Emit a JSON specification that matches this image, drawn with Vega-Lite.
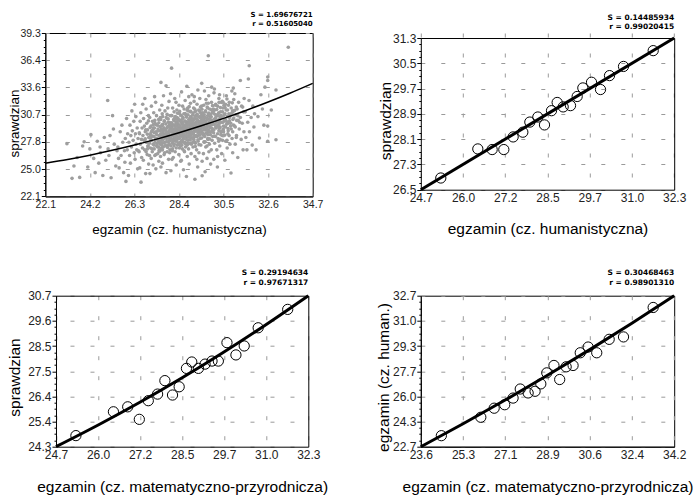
{
"$schema": "https://vega.github.io/schema/vega-lite/v6.json",
"padding": {"left": 6.3, "top": 10, "right": 0, "bottom": 0},
"background": "white",
"config": {
 "font": "Liberation Sans",
 "view": {"stroke": "#000", "strokeWidth": 1},
 "axis": {"domainColor": "#000", "domainWidth": 1, "labelColor": "#222", "titleColor": "#000", "titleFontWeight": "normal", "labelFont": "Liberation Sans", "titleFont": "Liberation Sans", "gridColor": "#9a9a9a", "gridWidth": 1, "tickColor": "#000", "labelFlush": false, "labelOverlap": false, "labelBound": false, "grid": true, "gridDash": [4, 16]},
 "title": {"font": "DejaVu Sans", "fontWeight": "bold", "anchor": "end", "color": "#000", "frame": "group"}
},
"datasets": {
"p1pts": [
{"x":23.12,"y":27.65},{"x":23.36,"y":24.0},{"x":23.45,"y":25.3},
{"x":23.72,"y":24.1},{"x":23.86,"y":27.4},{"x":23.93,"y":27.85},{"x":23.6,"y":26.2},
{"x":24.25,"y":28.6},{"x":24.1,"y":25.2},{"x":24.38,"y":26.1},{"x":24.45,"y":24.6},{"x":24.2,"y":27.1},
{"x":24.55,"y":27.9},{"x":24.62,"y":25.6},{"x":24.7,"y":26.7},{"x":24.81,"y":24.3},{"x":24.88,"y":28.3},{"x":24.95,"y":25.9},{"x":24.68,"y":27.3},
{"x":25.04,"y":32.2},{"x":25.27,"y":30.6},{"x":25.2,"y":24.07},{"x":25.1,"y":26.4},{"x":25.35,"y":27.6},{"x":25.42,"y":25.3},{"x":25.15,"y":28.5},{"x":25.48,"y":26.9},{"x":25.31,"y":29.2},{"x":25.06,"y":27.1},
{"x":25.52,"y":27.3},{"x":25.58,"y":25.1},{"x":25.63,"y":28.9},{"x":25.67,"y":26.4},{"x":25.71,"y":29.6},{"x":25.75,"y":27.8},{"x":25.79,"y":24.6},{"x":25.83,"y":26.9},{"x":25.87,"y":28.2},{"x":25.9,"y":23.68},{"x":25.93,"y":30.3},{"x":25.96,"y":27.0},{"x":25.55,"y":26.1},{"x":25.85,"y":25.7},{"x":25.98,"y":28.7},
{"x":26.02,"y":24.3},{"x":26.45,"y":25.0},{"x":26.11,"y":25.6},{"x":26.33,"y":26.0},{"x":26.07,"y":26.4},{"x":26.29,"y":26.7},{"x":26.41,"y":27.0},{"x":26.16,"y":27.3},{"x":26.38,"y":27.6},{"x":26.04,"y":27.8},{"x":26.24,"y":28.0},{"x":26.47,"y":28.2},{"x":26.13,"y":28.5},{"x":26.35,"y":28.7},{"x":26.2,"y":29.0},{"x":26.43,"y":29.3},{"x":26.09,"y":29.6},{"x":26.27,"y":30.0},{"x":26.37,"y":30.5},{"x":26.18,"y":31.1},{"x":26.31,"y":31.8},{"x":26.49,"y":26.9},
{"x":26.61,"y":23.6},{"x":26.83,"y":24.5},{"x":26.55,"y":25.1},{"x":26.97,"y":25.5},{"x":26.72,"y":25.9},{"x":26.64,"y":26.2},{"x":26.9,"y":26.5},{"x":26.52,"y":26.8},{"x":26.78,"y":27.0},{"x":26.68,"y":27.2},{"x":26.94,"y":27.4},{"x":26.58,"y":27.6},{"x":26.86,"y":27.8},{"x":26.75,"y":28.0},{"x":26.63,"y":28.1},{"x":26.99,"y":28.3},{"x":26.7,"y":28.5},{"x":26.54,"y":28.7},{"x":26.81,"y":28.9},{"x":26.92,"y":29.1},{"x":26.66,"y":29.3},{"x":26.77,"y":29.5},{"x":26.88,"y":29.8},{"x":26.57,"y":30.0},{"x":26.73,"y":30.3},{"x":26.96,"y":30.6},{"x":26.6,"y":30.9},{"x":26.85,"y":31.3},{"x":26.69,"y":31.8},{"x":26.79,"y":32.4},{"x":26.91,"y":27.1},{"x":26.53,"y":28.8},
{"x":27.03,"y":24.5},{"x":27.31,"y":25.0},{"x":27.18,"y":25.4},{"x":27.45,"y":25.8},{"x":27.09,"y":26.1},{"x":27.26,"y":26.4},{"x":27.4,"y":26.6},{"x":27.14,"y":26.8},{"x":27.48,"y":27.0},{"x":27.06,"y":27.2},{"x":27.35,"y":27.4},{"x":27.22,"y":27.5},{"x":27.01,"y":27.7},{"x":27.43,"y":27.8},{"x":27.11,"y":28.0},{"x":27.29,"y":28.1},{"x":27.37,"y":28.2},{"x":27.16,"y":28.4},{"x":27.47,"y":28.5},{"x":27.05,"y":28.6},{"x":27.24,"y":28.8},{"x":27.33,"y":28.9},{"x":27.12,"y":29.0},{"x":27.41,"y":29.2},{"x":27.2,"y":29.3},{"x":27.08,"y":29.5},{"x":27.38,"y":29.6},{"x":27.27,"y":29.8},{"x":27.15,"y":30.0},{"x":27.44,"y":30.2},{"x":27.02,"y":30.4},{"x":27.34,"y":30.6},{"x":27.21,"y":30.9},{"x":27.49,"y":31.2},{"x":27.1,"y":31.6},{"x":27.3,"y":32.0},{"x":27.25,"y":32.6},{"x":27.39,"y":27.3},{"x":27.07,"y":28.3},{"x":27.17,"y":29.1},{"x":27.46,"y":26.9},
{"x":27.79,"y":24.6},{"x":27.55,"y":25.2},{"x":27.62,"y":25.6},{"x":27.91,"y":26.0},{"x":27.53,"y":26.3},{"x":27.7,"y":26.5},{"x":27.84,"y":26.8},{"x":27.97,"y":27.0},{"x":27.58,"y":27.2},{"x":27.66,"y":27.3},{"x":27.88,"y":27.5},{"x":27.51,"y":27.6},{"x":27.75,"y":27.8},{"x":27.94,"y":27.9},{"x":27.6,"y":28.0},{"x":27.81,"y":28.2},{"x":27.68,"y":28.3},{"x":27.99,"y":28.4},{"x":27.56,"y":28.5},{"x":27.73,"y":28.6},{"x":27.86,"y":28.7},{"x":27.64,"y":28.8},{"x":27.92,"y":28.9},{"x":27.52,"y":29.0},{"x":27.77,"y":29.1},{"x":27.69,"y":29.2},{"x":27.83,"y":29.3},{"x":27.57,"y":29.5},{"x":27.95,"y":29.6},{"x":27.63,"y":29.7},{"x":27.89,"y":29.9},{"x":27.71,"y":30.0},{"x":27.54,"y":30.2},{"x":27.8,"y":30.4},{"x":27.98,"y":30.6},{"x":27.61,"y":30.8},{"x":27.74,"y":31.1},{"x":27.87,"y":31.4},{"x":27.59,"y":31.7},{"x":27.93,"y":32.1},{"x":27.67,"y":32.7},{"x":27.79,"y":33.75},{"x":27.55,"y":34.1},{"x":27.82,"y":27.4},{"x":27.65,"y":28.1},{"x":27.96,"y":29.4},{"x":27.72,"y":26.7},{"x":27.85,"y":30.3},{"x":27.58,"y":27.7},
{"x":28.02,"y":24.8},{"x":28.27,"y":25.4},{"x":28.48,"y":25.8},{"x":28.13,"y":26.2},{"x":28.39,"y":26.5},{"x":28.22,"y":26.8},{"x":28.05,"y":27.0},{"x":28.42,"y":27.2},{"x":28.16,"y":27.4},{"x":28.33,"y":27.5},{"x":28.09,"y":27.7},{"x":28.46,"y":27.8},{"x":28.25,"y":27.9},{"x":28.11,"y":28.1},{"x":28.38,"y":28.2},{"x":28.01,"y":28.3},{"x":28.29,"y":28.4},{"x":28.47,"y":28.5},{"x":28.14,"y":28.6},{"x":28.35,"y":28.7},{"x":28.21,"y":28.8},{"x":28.04,"y":28.9},{"x":28.41,"y":29.0},{"x":28.18,"y":29.1},{"x":28.32,"y":29.2},{"x":28.08,"y":29.3},{"x":28.45,"y":29.4},{"x":28.24,"y":29.5},{"x":28.12,"y":29.6},{"x":28.37,"y":29.7},{"x":28.03,"y":29.8},{"x":28.28,"y":29.9},{"x":28.49,"y":30.0},{"x":28.15,"y":30.2},{"x":28.34,"y":30.3},{"x":28.23,"y":30.5},{"x":28.06,"y":30.6},{"x":28.43,"y":30.8},{"x":28.17,"y":31.0},{"x":28.3,"y":31.2},{"x":28.1,"y":31.4},{"x":28.4,"y":31.7},{"x":28.26,"y":32.0},{"x":28.2,"y":32.4},{"x":28.0,"y":32.9},{"x":28.05,"y":35.6},{"x":28.09,"y":27.1},{"x":28.47,"y":27.6},{"x":28.22,"y":28.0},{"x":28.13,"y":28.6},{"x":28.44,"y":29.2},{"x":28.28,"y":29.9},{"x":28.31,"y":30.4},{"x":28.07,"y":26.0},
{"x":28.75,"y":24.2},{"x":28.61,"y":24.9},{"x":28.88,"y":25.5},{"x":28.51,"y":25.9},{"x":28.79,"y":26.3},{"x":28.97,"y":26.6},{"x":28.64,"y":26.9},{"x":28.85,"y":27.1},{"x":28.71,"y":27.3},{"x":28.54,"y":27.5},{"x":28.91,"y":27.7},{"x":28.68,"y":27.8},{"x":28.82,"y":28.0},{"x":28.58,"y":28.1},{"x":28.95,"y":28.3},{"x":28.74,"y":28.4},{"x":28.62,"y":28.5},{"x":28.87,"y":28.6},{"x":28.53,"y":28.7},{"x":28.78,"y":28.8},{"x":28.99,"y":28.9},{"x":28.65,"y":29.0},{"x":28.84,"y":29.1},{"x":28.73,"y":29.2},{"x":28.56,"y":29.3},{"x":28.93,"y":29.4},{"x":28.67,"y":29.5},{"x":28.8,"y":29.6},{"x":28.6,"y":29.7},{"x":28.9,"y":29.8},{"x":28.76,"y":29.9},{"x":28.7,"y":30.0},{"x":28.5,"y":30.1},{"x":28.86,"y":30.2},{"x":28.59,"y":30.4},{"x":28.97,"y":30.5},{"x":28.72,"y":30.7},{"x":28.63,"y":30.8},{"x":28.94,"y":31.0},{"x":28.78,"y":31.2},{"x":28.81,"y":31.4},{"x":28.57,"y":31.6},{"x":28.94,"y":31.9},{"x":28.69,"y":32.2},{"x":28.86,"y":32.6},{"x":28.52,"y":33.1},{"x":28.77,"y":33.7},{"x":28.98,"y":27.6},{"x":28.63,"y":28.2},{"x":28.89,"y":28.8},{"x":28.72,"y":29.3},{"x":28.55,"y":29.9},{"x":28.92,"y":30.3},{"x":28.66,"y":26.8},{"x":28.83,"y":31.1},{"x":28.59,"y":28.6},{"x":28.96,"y":29.6},
{"x":29.15,"y":23.9},{"x":29.49,"y":24.28},{"x":29.28,"y":25.2},{"x":29.49,"y":25.8},{"x":29.15,"y":26.3},{"x":29.34,"y":26.7},{"x":29.23,"y":27.0},{"x":29.06,"y":27.3},{"x":29.43,"y":27.5},{"x":29.17,"y":27.7},{"x":29.3,"y":27.9},{"x":29.1,"y":28.1},{"x":29.4,"y":28.2},{"x":29.26,"y":28.4},{"x":29.2,"y":28.5},{"x":29.0,"y":28.7},{"x":29.36,"y":28.8},{"x":29.09,"y":28.9},{"x":29.47,"y":29.0},{"x":29.22,"y":29.1},{"x":29.13,"y":29.2},{"x":29.44,"y":29.3},{"x":29.28,"y":29.4},{"x":29.31,"y":29.5},{"x":29.07,"y":29.6},{"x":29.44,"y":29.7},{"x":29.19,"y":29.8},{"x":29.36,"y":29.9},{"x":29.02,"y":30.0},{"x":29.27,"y":30.1},{"x":29.48,"y":30.2},{"x":29.13,"y":30.3},{"x":29.39,"y":30.4},{"x":29.22,"y":30.6},{"x":29.05,"y":30.7},{"x":29.42,"y":30.9},{"x":29.16,"y":31.0},{"x":29.33,"y":31.2},{"x":29.09,"y":31.4},{"x":29.46,"y":31.6},{"x":29.25,"y":31.8},{"x":29.11,"y":32.1},{"x":29.38,"y":32.4},{"x":29.01,"y":32.8},{"x":29.29,"y":33.3},{"x":29.47,"y":34.0},{"x":29.14,"y":27.8},{"x":29.35,"y":28.6},{"x":29.21,"y":29.3},{"x":29.04,"y":30.0},{"x":29.41,"y":30.5},{"x":29.18,"y":31.1},{"x":29.32,"y":29.0},{"x":29.08,"y":28.3},{"x":29.45,"y":29.7},{"x":29.24,"y":26.0},{"x":29.12,"y":32.6},
{"x":29.63,"y":24.7},{"x":29.89,"y":25.5},{"x":29.72,"y":26.1},{"x":29.55,"y":26.6},{"x":29.92,"y":27.0},{"x":29.66,"y":27.3},{"x":29.83,"y":27.6},{"x":29.59,"y":27.8},{"x":29.96,"y":28.0},{"x":29.75,"y":28.2},{"x":29.61,"y":28.4},{"x":29.88,"y":28.6},{"x":29.51,"y":28.7},{"x":29.79,"y":28.9},{"x":29.97,"y":29.0},{"x":29.64,"y":29.2},{"x":29.85,"y":29.3},{"x":29.71,"y":29.4},{"x":29.54,"y":29.6},{"x":29.91,"y":29.7},{"x":29.68,"y":29.8},{"x":29.82,"y":29.9},{"x":29.58,"y":30.0},{"x":29.95,"y":30.1},{"x":29.74,"y":30.3},{"x":29.62,"y":30.4},{"x":29.87,"y":30.5},{"x":29.53,"y":30.6},{"x":29.78,"y":30.8},{"x":29.99,"y":30.9},{"x":29.65,"y":31.1},{"x":29.84,"y":31.3},{"x":29.73,"y":31.5},{"x":29.56,"y":31.7},{"x":29.93,"y":32.0},{"x":29.67,"y":32.3},{"x":29.8,"y":32.7},{"x":29.6,"y":33.2},{"x":29.78,"y":36.9},{"x":29.76,"y":28.1},{"x":29.7,"y":28.8},{"x":29.5,"y":29.5},{"x":29.86,"y":30.2},{"x":29.59,"y":30.7},{"x":29.97,"y":31.2},{"x":29.72,"y":27.4},{"x":29.63,"y":29.1},{"x":29.94,"y":30.0},{"x":29.78,"y":31.9},{"x":29.81,"y":26.8},{"x":29.57,"y":28.5},{"x":29.94,"y":33.6},
{"x":30.21,"y":25.2},{"x":30.04,"y":26.0},{"x":30.41,"y":26.6},{"x":30.18,"y":27.0},{"x":30.32,"y":27.4},{"x":30.08,"y":27.7},{"x":30.45,"y":28.0},{"x":30.24,"y":28.2},{"x":30.12,"y":28.4},{"x":30.37,"y":28.6},{"x":30.03,"y":28.8},{"x":30.28,"y":29.0},{"x":30.49,"y":29.1},{"x":30.15,"y":29.3},{"x":30.34,"y":29.4},{"x":30.23,"y":29.6},{"x":30.06,"y":29.7},{"x":30.43,"y":29.9},{"x":30.17,"y":30.0},{"x":30.3,"y":30.1},{"x":30.1,"y":30.3},{"x":30.4,"y":30.4},{"x":30.26,"y":30.6},{"x":30.2,"y":30.7},{"x":30.0,"y":30.9},{"x":30.36,"y":31.0},{"x":30.09,"y":31.2},{"x":30.47,"y":31.4},{"x":30.22,"y":31.6},{"x":30.13,"y":31.8},{"x":30.44,"y":32.1},{"x":30.28,"y":32.4},{"x":30.31,"y":32.8},{"x":30.07,"y":33.4},{"x":30.44,"y":28.5},{"x":30.19,"y":29.5},{"x":30.36,"y":30.5},{"x":30.02,"y":31.3},{"x":30.27,"y":27.9},{"x":30.48,"y":29.2},{"x":30.13,"y":30.2},{"x":30.39,"y":32.0},{"x":30.22,"y":26.3},{"x":30.05,"y":33.0},{"x":30.42,"y":28.9},
{"x":30.85,"y":24.56},{"x":30.56,"y":25.9},{"x":30.93,"y":26.7},{"x":30.67,"y":27.2},{"x":30.8,"y":27.6},{"x":30.6,"y":27.9},{"x":30.9,"y":28.2},{"x":30.76,"y":28.5},{"x":30.7,"y":28.7},{"x":30.5,"y":28.9},{"x":30.86,"y":29.2},{"x":30.59,"y":29.4},{"x":30.97,"y":29.6},{"x":30.72,"y":29.8},{"x":30.63,"y":30.0},{"x":30.94,"y":30.2},{"x":30.78,"y":30.4},{"x":30.81,"y":30.6},{"x":30.57,"y":30.8},{"x":30.94,"y":31.0},{"x":30.69,"y":31.2},{"x":30.86,"y":31.4},{"x":30.52,"y":31.7},{"x":30.77,"y":32.0},{"x":30.98,"y":32.3},{"x":30.63,"y":32.7},{"x":30.89,"y":33.2},{"x":30.72,"y":29.0},{"x":30.55,"y":30.1},{"x":30.92,"y":31.1},{"x":30.66,"y":28.0},{"x":30.83,"y":29.5},{"x":30.59,"y":31.8},{"x":30.96,"y":33.5},
{"x":31.17,"y":26.2},{"x":31.42,"y":27.0},{"x":31.05,"y":27.6},{"x":31.33,"y":28.1},{"x":31.11,"y":28.5},{"x":31.46,"y":28.9},{"x":31.24,"y":29.2},{"x":31.02,"y":29.5},{"x":31.38,"y":29.8},{"x":31.19,"y":30.1},{"x":31.29,"y":30.4},{"x":31.08,"y":30.7},{"x":31.44,"y":31.0},{"x":31.14,"y":31.3},{"x":31.35,"y":31.6},{"x":31.21,"y":32.0},{"x":31.47,"y":32.4},{"x":31.03,"y":32.9},{"x":31.29,"y":34.3},{"x":31.26,"y":29.9},{"x":31.4,"y":31.5},{"x":31.1,"y":28.3},
{"x":31.6,"y":27.0},{"x":31.85,"y":27.5},{"x":31.55,"y":28.3},{"x":31.72,"y":28.9},{"x":31.93,"y":29.4},{"x":31.64,"y":29.9},{"x":31.8,"y":30.4},{"x":31.52,"y":31.0},{"x":31.88,"y":31.6},{"x":31.7,"y":32.2},{"x":31.71,"y":35.86},{"x":31.67,"y":34.46},{"x":31.96,"y":30.8},
{"x":32.03,"y":27.0},{"x":32.19,"y":28.24},{"x":32.4,"y":29.6},{"x":32.12,"y":30.5},{"x":32.33,"y":31.3},{"x":32.26,"y":32.8},{"x":32.45,"y":33.6},
{"x":32.58,"y":29.5},{"x":32.58,"y":27.9},{"x":32.58,"y":34.67},{"x":32.58,"y":34.3},{"x":32.97,"y":33.3},{"x":32.97,"y":28.07},{"x":33.55,"y":37.8},{"x":32.75,"y":31.2},
{"x":27.01,"y":26.4},{"x":26.85,"y":26.8},{"x":27.13,"y":27.1},{"x":26.94,"y":27.4},{"x":27.18,"y":27.6},{"x":26.89,"y":27.8},{"x":27.07,"y":28.0},{"x":26.81,"y":28.15},{"x":26.98,"y":28.3},{"x":27.15,"y":28.45},{"x":26.91,"y":28.65},{"x":27.09,"y":28.85},{"x":26.83,"y":29.1},{"x":27.04,"y":29.35},{"x":27.19,"y":29.65},{"x":26.96,"y":30.05},
{"x":27.31,"y":26.5},{"x":27.49,"y":26.85},{"x":27.23,"y":27.1},{"x":27.44,"y":27.3},{"x":27.59,"y":27.5},{"x":27.36,"y":27.65},{"x":27.27,"y":27.8},{"x":27.51,"y":27.95},{"x":27.4,"y":28.1},{"x":27.32,"y":28.2},{"x":27.56,"y":28.3},{"x":27.22,"y":28.4},{"x":27.46,"y":28.5},{"x":27.35,"y":28.6},{"x":27.54,"y":28.7},{"x":27.28,"y":28.85},{"x":27.42,"y":29.0},{"x":27.57,"y":29.15},{"x":27.24,"y":29.3},{"x":27.5,"y":29.45},{"x":27.33,"y":29.65},{"x":27.45,"y":29.85},{"x":27.26,"y":30.1},{"x":27.52,"y":30.4},
{"x":27.96,"y":26.7},{"x":27.62,"y":27.0},{"x":27.86,"y":27.25},{"x":27.75,"y":27.45},{"x":27.94,"y":27.6},{"x":27.68,"y":27.75},{"x":27.82,"y":27.87},{"x":27.97,"y":27.99},{"x":27.64,"y":28.11},{"x":27.9,"y":28.22},{"x":27.73,"y":28.32},{"x":27.85,"y":28.41},{"x":27.66,"y":28.5},{"x":27.92,"y":28.59},{"x":27.77,"y":28.67},{"x":27.88,"y":28.75},{"x":27.81,"y":28.83},{"x":27.65,"y":28.92},{"x":27.93,"y":29.01},{"x":27.74,"y":29.11},{"x":27.98,"y":29.22},{"x":27.69,"y":29.33},{"x":27.87,"y":29.45},{"x":27.61,"y":29.58},{"x":27.78,"y":29.72},{"x":27.95,"y":29.87},{"x":27.71,"y":30.05},{"x":27.89,"y":30.25},{"x":27.63,"y":30.5},{"x":27.84,"y":30.75},
{"x":28.09,"y":26.9},{"x":28.27,"y":27.2},{"x":28.01,"y":27.42},{"x":28.18,"y":27.6},{"x":28.35,"y":27.75},{"x":28.11,"y":27.88},{"x":28.29,"y":28.0},{"x":28.03,"y":28.11},{"x":28.24,"y":28.21},{"x":28.39,"y":28.31},{"x":28.16,"y":28.4},{"x":28.07,"y":28.49},{"x":28.31,"y":28.57},{"x":28.2,"y":28.65},{"x":28.12,"y":28.73},{"x":28.36,"y":28.81},{"x":28.02,"y":28.88},{"x":28.26,"y":28.95},{"x":28.15,"y":29.02},{"x":28.34,"y":29.09},{"x":28.08,"y":29.17},{"x":28.22,"y":29.25},{"x":28.37,"y":29.33},{"x":28.04,"y":29.42},{"x":28.3,"y":29.51},{"x":28.13,"y":29.61},{"x":28.25,"y":29.72},{"x":28.06,"y":29.84},{"x":28.32,"y":29.96},{"x":28.17,"y":30.1},{"x":28.28,"y":30.25},{"x":28.21,"y":30.42},{"x":28.05,"y":30.62},{"x":28.33,"y":30.85},
{"x":28.56,"y":27.1},{"x":28.47,"y":27.4},{"x":28.71,"y":27.62},{"x":28.6,"y":27.8},{"x":28.52,"y":27.95},{"x":28.76,"y":28.08},{"x":28.42,"y":28.2},{"x":28.66,"y":28.31},{"x":28.55,"y":28.41},{"x":28.74,"y":28.51},{"x":28.48,"y":28.6},{"x":28.62,"y":28.69},{"x":28.77,"y":28.77},{"x":28.44,"y":28.85},{"x":28.7,"y":28.93},{"x":28.53,"y":29.01},{"x":28.65,"y":29.08},{"x":28.46,"y":29.15},{"x":28.72,"y":29.22},{"x":28.57,"y":29.29},{"x":28.68,"y":29.37},{"x":28.61,"y":29.45},{"x":28.45,"y":29.53},{"x":28.73,"y":29.62},{"x":28.54,"y":29.71},{"x":28.78,"y":29.81},{"x":28.49,"y":29.92},{"x":28.67,"y":30.04},{"x":28.41,"y":30.16},{"x":28.58,"y":30.3},{"x":28.75,"y":30.45},{"x":28.51,"y":30.62},{"x":28.69,"y":30.82},{"x":28.43,"y":31.05},{"x":28.64,"y":31.3},{"x":28.79,"y":27.5},
{"x":29.17,"y":27.35},{"x":28.84,"y":27.65},{"x":29.1,"y":27.87},{"x":28.93,"y":28.05},{"x":29.05,"y":28.2},{"x":28.86,"y":28.33},{"x":29.12,"y":28.45},{"x":28.97,"y":28.56},{"x":29.08,"y":28.66},{"x":29.01,"y":28.76},{"x":28.85,"y":28.85},{"x":29.13,"y":28.94},{"x":28.94,"y":29.02},{"x":29.18,"y":29.1},{"x":28.89,"y":29.18},{"x":29.07,"y":29.26},{"x":28.81,"y":29.33},{"x":28.98,"y":29.4},{"x":29.15,"y":29.47},{"x":28.91,"y":29.54},{"x":29.09,"y":29.62},{"x":28.83,"y":29.7},{"x":29.04,"y":29.78},{"x":29.19,"y":29.87},{"x":28.96,"y":29.96},{"x":28.87,"y":30.06},{"x":29.11,"y":30.17},{"x":29.0,"y":30.29},{"x":28.92,"y":30.41},{"x":29.16,"y":30.55},{"x":28.82,"y":30.7},{"x":29.06,"y":30.87},{"x":28.95,"y":31.07},{"x":29.14,"y":31.3},{"x":28.88,"y":31.55},{"x":29.02,"y":27.75},
{"x":29.34,"y":27.55},{"x":29.58,"y":27.85},{"x":29.29,"y":28.07},{"x":29.47,"y":28.25},{"x":29.21,"y":28.4},{"x":29.38,"y":28.53},{"x":29.55,"y":28.65},{"x":29.31,"y":28.76},{"x":29.49,"y":28.86},{"x":29.23,"y":28.96},{"x":29.44,"y":29.05},{"x":29.59,"y":29.14},{"x":29.36,"y":29.22},{"x":29.27,"y":29.3},{"x":29.51,"y":29.38},{"x":29.4,"y":29.46},{"x":29.32,"y":29.53},{"x":29.56,"y":29.6},{"x":29.22,"y":29.67},{"x":29.46,"y":29.74},{"x":29.35,"y":29.82},{"x":29.54,"y":29.9},{"x":29.28,"y":29.98},{"x":29.42,"y":30.07},{"x":29.57,"y":30.16},{"x":29.24,"y":30.26},{"x":29.5,"y":30.37},{"x":29.33,"y":30.49},{"x":29.45,"y":30.61},{"x":29.26,"y":30.75},{"x":29.52,"y":30.9},{"x":29.37,"y":31.07},{"x":29.48,"y":31.27},{"x":29.41,"y":31.5},
{"x":29.63,"y":27.85},{"x":29.84,"y":28.15},{"x":29.99,"y":28.4},{"x":29.76,"y":28.6},{"x":29.67,"y":28.75},{"x":29.91,"y":28.9},{"x":29.8,"y":29.02},{"x":29.72,"y":29.14},{"x":29.96,"y":29.26},{"x":29.62,"y":29.37},{"x":29.86,"y":29.47},{"x":29.75,"y":29.56},{"x":29.94,"y":29.65},{"x":29.68,"y":29.74},{"x":29.82,"y":29.82},{"x":29.97,"y":29.9},{"x":29.64,"y":29.98},{"x":29.9,"y":30.07},{"x":29.73,"y":30.16},{"x":29.85,"y":30.26},{"x":29.66,"y":30.37},{"x":29.92,"y":30.48},{"x":29.77,"y":30.6},{"x":29.88,"y":30.73},{"x":29.81,"y":30.87},{"x":29.65,"y":31.02},{"x":29.93,"y":31.2},{"x":29.74,"y":31.4},{"x":29.98,"y":31.65},{"x":29.69,"y":31.9},
{"x":30.34,"y":28.1},{"x":30.08,"y":28.45},{"x":30.22,"y":28.7},{"x":30.37,"y":28.9},{"x":30.04,"y":29.1},{"x":30.3,"y":29.25},{"x":30.13,"y":29.4},{"x":30.25,"y":29.55},{"x":30.06,"y":29.7},{"x":30.32,"y":29.8},{"x":30.17,"y":29.9},{"x":30.28,"y":30.0},{"x":30.21,"y":30.1},{"x":30.05,"y":30.2},{"x":30.33,"y":30.3},{"x":30.14,"y":30.45},{"x":30.38,"y":30.6},{"x":30.09,"y":30.75},{"x":30.27,"y":30.9},{"x":30.01,"y":31.05},{"x":30.18,"y":31.25},{"x":30.35,"y":31.45},{"x":30.11,"y":31.7},{"x":30.29,"y":32.0},
{"x":30.55,"y":28.55},{"x":30.43,"y":28.95},{"x":30.71,"y":29.25},{"x":30.5,"y":29.5},{"x":30.64,"y":29.7},{"x":30.47,"y":29.9},{"x":30.78,"y":30.05},{"x":30.59,"y":30.2},{"x":30.41,"y":30.35},{"x":30.69,"y":30.5},{"x":30.52,"y":30.65},{"x":30.75,"y":30.8},{"x":30.45,"y":31.0},{"x":30.62,"y":31.2},{"x":30.57,"y":31.45},{"x":30.73,"y":31.7},{"x":30.48,"y":32.0},{"x":30.66,"y":32.35},
{"x":30.93,"y":28.9},{"x":31.05,"y":29.4},{"x":30.84,"y":29.8},{"x":31.12,"y":30.1},{"x":30.98,"y":30.35},{"x":31.17,"y":30.6},{"x":30.88,"y":30.85},{"x":31.02,"y":31.15},{"x":31.1,"y":31.5},{"x":30.91,"y":31.95}
],
"p1line": [
{"x":22.1,"y":25.6},{"x":23.15,"y":25.99},{"x":24.2,"y":26.44},{"x":25.25,"y":26.95},{"x":26.3,"y":27.51},{"x":27.35,"y":28.13},{"x":28.4,"y":28.8},{"x":29.45,"y":29.53},{"x":30.5,"y":30.31},{"x":31.55,"y":31.15},{"x":32.6,"y":32.04},{"x":33.65,"y":32.99},{"x":34.7,"y":34.0}
],
"p2pts": [
{"x":25.30,"y":26.87},{"x":26.41,"y":27.79},{"x":26.84,"y":27.77},{"x":27.19,"y":27.77},{"x":27.47,"y":28.17},{"x":27.76,"y":28.32},{"x":27.97,"y":28.64},{"x":28.21,"y":28.80},{"x":28.41,"y":28.55},{"x":28.62,"y":29.00},{"x":28.79,"y":29.26},{"x":28.97,"y":29.12},{"x":29.19,"y":29.16},{"x":29.39,"y":29.45},{"x":29.56,"y":29.72},{"x":29.82,"y":29.90},{"x":30.09,"y":29.67},{"x":30.36,"y":30.11},{"x":30.78,"y":30.40},{"x":31.67,"y":30.90}
],
"p2line": [{"x":24.7,"y":26.5},{"x":28.5,"y":28.9},{"x":32.3,"y":31.3}],
"p3pts": [
{"x":25.30,"y":24.77},{"x":26.43,"y":25.78},{"x":26.86,"y":25.99},{"x":27.21,"y":25.46},{"x":27.48,"y":26.25},{"x":27.76,"y":26.53},{"x":27.98,"y":27.10},{"x":28.21,"y":26.49},{"x":28.41,"y":26.84},{"x":28.63,"y":27.62},{"x":28.79,"y":27.89},{"x":28.99,"y":27.62},{"x":29.19,"y":27.80},{"x":29.40,"y":27.93},{"x":29.59,"y":27.93},{"x":29.85,"y":28.71},{"x":30.12,"y":28.19},{"x":30.37,"y":28.57},{"x":30.79,"y":29.34},{"x":31.68,"y":30.12}
],
"p3line": [{"x":24.7,"y":24.3},{"x":26.0,"y":25.24},{"x":27.2,"y":26.16},{"x":28.5,"y":27.22},{"x":29.7,"y":28.26},{"x":31.0,"y":29.45},{"x":32.3,"y":30.7}],
"p4pts": [
{"x":24.46,"y":23.43},{"x":26.11,"y":24.65},{"x":26.67,"y":25.25},{"x":27.11,"y":25.48},{"x":27.46,"y":25.92},{"x":27.76,"y":26.52},{"x":28.09,"y":26.26},{"x":28.38,"y":26.37},{"x":28.62,"y":26.86},{"x":28.87,"y":27.59},{"x":29.17,"y":28.08},{"x":29.41,"y":27.15},{"x":29.68,"y":27.99},{"x":29.97,"y":28.08},{"x":30.27,"y":28.92},{"x":30.60,"y":29.30},{"x":30.96,"y":28.92},{"x":31.48,"y":29.81},{"x":32.08,"y":29.97},{"x":33.32,"y":31.92}
],
"p4line": [{"x":23.6,"y":22.7},{"x":25.37,"y":24.22},{"x":27.13,"y":25.79},{"x":28.9,"y":27.43},{"x":30.67,"y":29.13},{"x":32.43,"y":30.88},{"x":34.2,"y":32.7}]
},
"columns": 2,
"bounds": "full",
"spacing": {"row": 30.7, "column": 47.5},
"concat": [
 {"width": 267.4, "height": 163.4,
  "title": {"text": ["S = 1.69676721", "r = 0.51605040"], "fontSize": 7, "lineHeight": 9.3, "offset": 1},
  "encoding": {
   "x": {"field": "x", "type": "quantitative", "scale": {"domain": [22.1, 34.7], "nice": false, "zero": false},
    "axis": {"title": "egzamin (cz. humanistyczna)", "values": [22.1, 24.2, 26.3, 28.4, 30.5, 32.6, 34.7], "labelExpr": "['22.1','24.2','26.3','28.4','30.5','32.6','34.7'][round((datum.value-22.1)/2.1)]", "ticks": false, "labelPadding": 3, "labelFontSize": 10.5, "titleFontSize": 13.5, "titleY": 33.3, "titleBaseline": "middle"}},
   "y": {"field": "y", "type": "quantitative", "scale": {"domain": [22.1, 39.3], "nice": false, "zero": false},
    "axis": {"title": "sprawdzian", "values": [22.1, 22.816667, 23.533333, 24.25, 24.966667, 25.683333, 26.4, 27.116667, 27.833333, 28.55, 29.266667, 29.983333, 30.7, 31.416667, 32.133333, 32.85, 33.566667, 34.283333, 35.0, 35.716667, 36.433333, 37.15, 37.866667, 38.583333, 39.3],
     "labelExpr": "abs((datum.value-22.1)/2.866667 - round((datum.value-22.1)/2.866667)) < 0.05 ? ['22.1','25.0','27.8','30.7','33.6','36.4','39.3'][round((datum.value-22.1)/2.866667)] : ''",
     "tickSize": {"condition": {"test": "abs((datum.value-22.1)/2.866667 - round((datum.value-22.1)/2.866667)) < 0.05", "value": 4}, "value": 2},
     "gridOpacity": {"condition": {"test": "abs((datum.value-22.1)/2.866667 - round((datum.value-22.1)/2.866667)) < 0.05", "value": 1}, "value": 0},
     "labelPadding": 1, "labelFontSize": 10.5, "titleFontSize": 13.5, "titleX": -31, "titleY": 90, "titleBaseline": "middle"}}
  },
  "layer": [
   {"data": {"name": "p1pts"}, "mark": {"type": "circle", "size": 13, "color": "#9e9e9e", "opacity": 1}},
   {"data": {"name": "p1line"}, "mark": {"type": "line", "color": "#000", "strokeWidth": 1.5, "interpolate": "monotone"}}
  ]
 },
 {"width": 253.4, "height": 156.7,
  "view": {"stroke": null},
  "title": {"text": ["S = 0.14485934", "r = 0.99020415"], "fontSize": 7.5, "lineHeight": 9.3, "offset": 1},
  "layer": [
   {"data": {"name": "p2pts"}, "mark": {"type": "point", "shape": "circle", "filled": false, "size": 105, "color": "#000", "strokeWidth": 1, "opacity": 1},
    "encoding": {
     "x": {"field": "x", "type": "quantitative", "scale": {"domain": [24.7, 32.3], "nice": false, "zero": false},
      "axis": {"title": "egzamin (cz. humanistyczna)", "values": [24.7, 25.966667, 27.233333, 28.5, 29.766667, 31.033333, 32.3], "labelExpr": "['24.7','26.0','27.2','28.5','29.7','31.0','32.3'][round((datum.value-24.7)/1.266667)]", "ticks": false, "labelPadding": 3, "labelFontSize": 12, "titleFontSize": 15.5, "titleY": 39, "titleBaseline": "middle"}},
     "y": {"field": "y", "type": "quantitative", "scale": {"domain": [26.5, 31.3], "range": [156.7, 5], "nice": false, "zero": false},
      "axis": {"title": "sprawdzian", "values": [26.5, 26.7, 26.9, 27.1, 27.3, 27.5, 27.7, 27.9, 28.1, 28.3, 28.5, 28.7, 28.9, 29.1, 29.3, 29.5, 29.7, 29.9, 30.1, 30.3, 30.5, 30.7, 30.9, 31.1, 31.3],
       "labelExpr": "abs((datum.value-26.5)/0.8 - round((datum.value-26.5)/0.8)) < 0.05 ? ['26.5','27.3','28.1','28.9','29.7','30.5','31.3'][round((datum.value-26.5)/0.8)] : ''",
       "tickSize": {"condition": {"test": "abs((datum.value-26.5)/0.8 - round((datum.value-26.5)/0.8)) < 0.05", "value": 4}, "value": 2},
       "gridOpacity": {"condition": {"test": "abs((datum.value-26.5)/0.8 - round((datum.value-26.5)/0.8)) < 0.05", "value": 1}, "value": 0},
       "labelPadding": 1, "labelFontSize": 12, "titleFontSize": 15.5, "titleX": -35.3, "titleY": 87.5, "titleBaseline": "middle"}}
    }},
   {"data": {"name": "p2line"}, "mark": {"type": "line", "color": "#000", "strokeWidth": 3},
    "encoding": {
     "x": {"field": "x", "type": "quantitative", "axis": {"orient": "top", "offset": -5, "labels": false, "ticks": false, "grid": false, "title": null, "domain": true}},
     "y": {"field": "y", "type": "quantitative", "axis": {"orient": "right", "labels": false, "ticks": false, "grid": false, "title": null, "domain": true}}
    }}
  ],
  "resolve": {"axis": {"x": "independent", "y": "independent"}}
 },
 {"width": 263, "height": 151,
  "view": {"stroke": null},
  "title": {"text": ["S = 0.29194634", "r = 0.97671317"], "fontSize": 7.5, "lineHeight": 9.3, "offset": 3.4},
  "layer": [
   {"data": {"name": "p3pts"}, "mark": {"type": "point", "shape": "circle", "filled": false, "size": 105, "color": "#000", "strokeWidth": 1, "opacity": 1},
    "encoding": {
     "x": {"field": "x", "type": "quantitative", "scale": {"domain": [24.7, 32.3], "range": [10.7, 263], "nice": false, "zero": false},
      "axis": {"title": "egzamin (cz. matematyczno-przyrodnicza)", "values": [24.7, 25.966667, 27.233333, 28.5, 29.766667, 31.033333, 32.3], "labelExpr": "['24.7','26.0','27.2','28.5','29.7','31.0','32.3'][round((datum.value-24.7)/1.266667)]", "ticks": false, "labelPadding": 3, "labelFontSize": 12, "titleFontSize": 15.5, "titleY": 40, "titleBaseline": "middle"}},
     "y": {"field": "y", "type": "quantitative", "scale": {"domain": [24.3, 30.7], "nice": false, "zero": false},
      "axis": {"title": "sprawdzian", "offset": -10.7, "gridDashOffset": 6, "values": [24.3, 24.566667, 24.833333, 25.1, 25.366667, 25.633333, 25.9, 26.166667, 26.433333, 26.7, 26.966667, 27.233333, 27.5, 27.766667, 28.033333, 28.3, 28.566667, 28.833333, 29.1, 29.366667, 29.633333, 29.9, 30.166667, 30.433333, 30.7],
       "labelExpr": "abs((datum.value-24.3)/1.066667 - round((datum.value-24.3)/1.066667)) < 0.05 ? ['24.3','25.4','26.4','27.5','28.5','29.6','30.7'][round((datum.value-24.3)/1.066667)] : ''",
       "tickSize": {"condition": {"test": "abs((datum.value-24.3)/1.066667 - round((datum.value-24.3)/1.066667)) < 0.05", "value": 4}, "value": 2},
       "gridOpacity": {"condition": {"test": "abs((datum.value-24.3)/1.066667 - round((datum.value-24.3)/1.066667)) < 0.05", "value": 1}, "value": 0},
       "labelPadding": 1, "labelFontSize": 12, "titleFontSize": 15.5, "titleX": -41, "titleY": 81.3, "titleBaseline": "middle"}}
    }},
   {"data": {"name": "p3line"}, "mark": {"type": "line", "color": "#000", "strokeWidth": 3, "interpolate": "monotone"},
    "encoding": {
     "x": {"field": "x", "type": "quantitative", "axis": {"orient": "top", "labels": false, "ticks": false, "grid": false, "title": null, "domain": true}},
     "y": {"field": "y", "type": "quantitative", "axis": {"orient": "right", "labels": false, "ticks": false, "grid": false, "title": null, "domain": true}}
    }}
  ],
  "resolve": {"axis": {"x": "independent", "y": "independent"}}
 },
 {"width": 253.4, "height": 151,
  "title": {"text": ["S = 0.30468463", "r = 0.98901310"], "fontSize": 7.5, "lineHeight": 9.3, "offset": 3.4},
  "encoding": {
   "x": {"field": "x", "type": "quantitative", "scale": {"domain": [23.6, 34.2], "nice": false, "zero": false},
    "axis": {"title": "egzamin (cz. matematyczno-przyrodnicza)", "values": [23.6, 25.366667, 27.133333, 28.9, 30.666667, 32.433333, 34.2], "labelExpr": "['23.6','25.3','27.1','28.9','30.6','32.4','34.2'][round((datum.value-23.6)/1.766667)]", "ticks": false, "labelPadding": 3, "labelFontSize": 12, "titleFontSize": 15.5, "titleY": 40, "titleBaseline": "middle"}},
   "y": {"field": "y", "type": "quantitative", "scale": {"domain": [22.7, 32.7], "nice": false, "zero": false},
    "axis": {"title": "egzamin (cz. human.)", "values": [22.7, 23.116667, 23.533333, 23.95, 24.366667, 24.783333, 25.2, 25.616667, 26.033333, 26.45, 26.866667, 27.283333, 27.7, 28.116667, 28.533333, 28.95, 29.366667, 29.783333, 30.2, 30.616667, 31.033333, 31.45, 31.866667, 32.283333, 32.7],
     "labelExpr": "abs((datum.value-22.7)/1.666667 - round((datum.value-22.7)/1.666667)) < 0.05 ? ['22.7','24.3','26.0','27.7','29.3','31.0','32.7'][round((datum.value-22.7)/1.666667)] : ''",
     "tickSize": {"condition": {"test": "abs((datum.value-22.7)/1.666667 - round((datum.value-22.7)/1.666667)) < 0.05", "value": 4}, "value": 2},
     "gridOpacity": {"condition": {"test": "abs((datum.value-22.7)/1.666667 - round((datum.value-22.7)/1.666667)) < 0.05", "value": 1}, "value": 0},
     "labelPadding": 1, "labelFontSize": 12, "titleFontSize": 15.5, "titleX": -37.3, "titleY": 81.3, "titleBaseline": "middle"}}
  },
  "layer": [
   {"data": {"name": "p4pts"}, "mark": {"type": "point", "shape": "circle", "filled": false, "size": 105, "color": "#000", "strokeWidth": 1, "opacity": 1}},
   {"data": {"name": "p4line"}, "mark": {"type": "line", "color": "#000", "strokeWidth": 3, "interpolate": "monotone"}}
  ]
 }
]
}
